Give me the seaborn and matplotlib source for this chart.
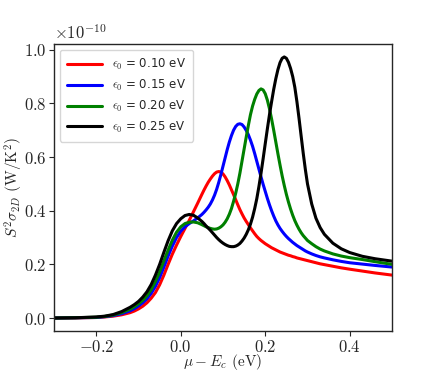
import numpy as np
import pandas as pd
import matplotlib
matplotlib.use("Agg")
import matplotlib.pyplot as plt
import seaborn as sns

# mu - E_c (eV), finer sampling around the peaks
mu = [-0.30, -0.25, -0.20, -0.18, -0.16, -0.14, -0.12, -0.11, -0.10, -0.09,
      -0.08, -0.07, -0.06, -0.05, -0.04, -0.03, -0.02, -0.01, 0.00, 0.01,
      0.02, 0.03, 0.04, 0.05,
      0.055, 0.060, 0.065, 0.070, 0.075, 0.080, 0.085, 0.090, 0.095, 0.100,
      0.105, 0.110, 0.115, 0.120, 0.125, 0.130, 0.135, 0.140, 0.145, 0.150,
      0.155, 0.160, 0.165, 0.170, 0.175, 0.180, 0.185, 0.190, 0.195, 0.200,
      0.205, 0.210, 0.215, 0.220, 0.225, 0.230, 0.235, 0.240, 0.245, 0.250,
      0.255, 0.260, 0.265, 0.270, 0.275, 0.280, 0.285, 0.290, 0.295, 0.300,
      0.31, 0.32, 0.33, 0.34, 0.36, 0.38, 0.40, 0.43, 0.46, 0.50]

# S^2 sigma_2D, in units of 1e-10 W/K^2
pf_010 = [0.000, 0.0005, 0.002, 0.004, 0.007, 0.012, 0.020, 0.026, 0.034, 0.044,
          0.057, 0.074, 0.095, 0.124, 0.160, 0.200, 0.238, 0.272, 0.304, 0.334,
          0.364, 0.396, 0.428, 0.461,
          0.477, 0.492, 0.506, 0.518, 0.529, 0.538, 0.544, 0.546, 0.544, 0.537,
          0.526, 0.512, 0.496, 0.478, 0.460, 0.441, 0.422, 0.404, 0.388, 0.373,
          0.360, 0.348, 0.336, 0.325, 0.314, 0.304, 0.296, 0.289, 0.283, 0.277,
          0.272, 0.267, 0.262, 0.258, 0.254, 0.250, 0.246, 0.243, 0.240, 0.237,
          0.234, 0.232, 0.229, 0.227, 0.224, 0.222, 0.220, 0.218, 0.216, 0.214,
          0.210, 0.206, 0.202, 0.199, 0.193, 0.187, 0.182, 0.175, 0.168, 0.160]
pf_015 = [0.000, 0.001, 0.002, 0.005, 0.009, 0.016, 0.027, 0.035, 0.045, 0.057,
          0.072, 0.092, 0.118, 0.151, 0.190, 0.231, 0.268, 0.300, 0.324, 0.340,
          0.352, 0.362, 0.373, 0.386,
          0.394, 0.403, 0.413, 0.425, 0.440, 0.458, 0.480, 0.506, 0.535, 0.566,
          0.597, 0.628, 0.656, 0.680, 0.700, 0.714, 0.722, 0.724, 0.721, 0.712,
          0.699, 0.683, 0.663, 0.640, 0.613, 0.584, 0.555, 0.526, 0.498, 0.472,
          0.446, 0.422, 0.400, 0.380, 0.362, 0.347, 0.334, 0.323, 0.313, 0.304,
          0.296, 0.289, 0.282, 0.276, 0.270, 0.265, 0.260, 0.255, 0.250, 0.246,
          0.239, 0.233, 0.228, 0.224, 0.217, 0.211, 0.206, 0.201, 0.196, 0.190]
pf_020 = [0.000, 0.001, 0.003, 0.006, 0.011, 0.020, 0.033, 0.042, 0.053, 0.066,
          0.083, 0.106, 0.136, 0.172, 0.213, 0.253, 0.290, 0.320, 0.340, 0.352,
          0.357, 0.358, 0.355, 0.348,
          0.344, 0.340, 0.337, 0.334, 0.332, 0.331, 0.332, 0.335, 0.340, 0.347,
          0.357, 0.370, 0.387, 0.408, 0.435, 0.465, 0.500, 0.540, 0.585, 0.630,
          0.675, 0.718, 0.758, 0.790, 0.815, 0.835, 0.848, 0.854, 0.850, 0.836,
          0.812, 0.780, 0.742, 0.700, 0.656, 0.612, 0.570, 0.530, 0.494, 0.461,
          0.432, 0.406, 0.383, 0.363, 0.346, 0.331, 0.318, 0.307, 0.298, 0.289,
          0.277, 0.266, 0.257, 0.250, 0.239, 0.231, 0.225, 0.218, 0.210, 0.200]
pf_025 = [0.000, 0.001, 0.004, 0.007, 0.013, 0.024, 0.040, 0.050, 0.062, 0.078,
          0.098, 0.125, 0.160, 0.200, 0.245, 0.288, 0.325, 0.352, 0.370, 0.382,
          0.386, 0.383, 0.373, 0.360,
          0.352, 0.343, 0.335, 0.327, 0.318, 0.309, 0.300, 0.292, 0.285, 0.279,
          0.274, 0.270, 0.267, 0.266, 0.266, 0.268, 0.272, 0.278, 0.287, 0.298,
          0.312, 0.329, 0.350, 0.376, 0.408, 0.445, 0.490, 0.540, 0.594, 0.650,
          0.705, 0.758, 0.806, 0.852, 0.892, 0.926, 0.952, 0.968, 0.973, 0.968,
          0.953, 0.930, 0.900, 0.860, 0.806, 0.744, 0.678, 0.613, 0.553, 0.500,
          0.425, 0.372, 0.337, 0.312, 0.279, 0.258, 0.244, 0.230, 0.221, 0.212]

labels = [r"$\epsilon_0$ = 0.10 eV", r"$\epsilon_0$ = 0.15 eV",
          r"$\epsilon_0$ = 0.20 eV", r"$\epsilon_0$ = 0.25 eV"]
colors = ["red", "blue", "green", "black"]

sns.set_style("ticks")
plt.rcParams["font.family"] = "serif"
plt.rcParams["font.serif"] = ["cmr10"]
plt.rcParams["mathtext.fontset"] = "cm"
plt.rcParams["axes.formatter.use_mathtext"] = True
plt.rcParams["axes.unicode_minus"] = True

frames = []
for lab, ys in zip(labels, [pf_010, pf_015, pf_020, pf_025]):
    frames.append(pd.DataFrame({"mu": mu, "pf": ys, "eps": lab}))
df = pd.concat(frames, ignore_index=True)

fig = plt.figure(figsize=(4.36, 3.72), dpi=100)
ax = fig.add_axes([0.124, 0.110, 0.775, 0.772])
sns.lineplot(data=df, x="mu", y="pf", hue="eps", palette=colors,
             linewidth=2.2, ax=ax, sort=False, estimator=None)

ax.set_xlim(-0.3, 0.5)
ax.set_xticks([-0.2, 0.0, 0.2, 0.4])
ax.set_yticks([0.0, 0.2, 0.4, 0.6, 0.8, 1.0])
ax.tick_params(labelsize=12, colors="#262626", length=3.5, width=0.8, pad=2)
ax.text(0.0, 1.008, r"$\times 10^{-10}$", transform=ax.transAxes,
        fontsize=12, color="#262626", va="bottom", ha="left")
ax.set_xlabel(r"$\mu - E_c$ (eV)", fontsize=11, labelpad=-2)
ax.set_ylabel(r"$S^2\sigma_{2D}$ (W/K$^2$)", fontsize=11, labelpad=-1)
for s in ax.spines.values():
    s.set_color("#262626")
    s.set_linewidth(1.0)

ax.legend(loc="upper left", prop={"family": "DejaVu Sans", "size": 8.5},
          handlelength=3.0, labelspacing=0.5, borderpad=0.6,
          title=None, frameon=True)

fig.savefig("out.png", dpi=100)
